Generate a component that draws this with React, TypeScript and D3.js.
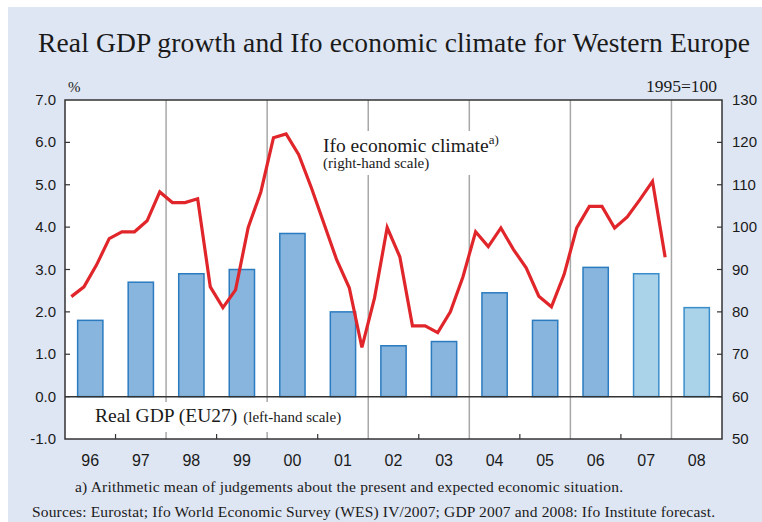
import React from "react";
import * as d3 from "d3";

const years = ["96", "97", "98", "99", "00", "01", "02", "03", "04", "05", "06", "07", "08"];
const gdp = [1.8, 2.7, 2.9, 3.0, 3.85, 2.0, 1.2, 1.3, 2.45, 1.8, 3.05, 2.9, 2.1];
const forecast = [false, false, false, false, false, false, false, false, false, false, false, true, true];
// quarterly Ifo economic climate, 1996Q1 - 2007Q4
const ifo = [
  83.6, 85.9, 91.1, 97.3,
  98.9, 98.9, 101.5, 108.3,
  105.8, 105.8, 106.7, 85.9,
  81.0, 85.2, 99.9, 108.3,
  121.1, 122.0, 117.1, 109.3,
  100.8, 92.3, 85.7, 71.6,
  83.3, 99.9, 93.0, 76.7,
  76.7, 75.1, 80.0, 88.3,
  98.9, 95.4, 99.8, 94.7,
  90.4, 83.7, 81.2, 88.8,
  99.8, 104.9, 104.9, 99.8,
  102.4, 106.5, 110.8, 92.9,
];
const leftTicks = [-1, 0, 1, 2, 3, 4, 5, 6, 7];
const rightTicks = [50, 60, 70, 80, 90, 100, 110, 120, 130];

const W = 762, H = 522;
const L = 65, R = 722, T = 100, B = 439;
const SERIF = "'Liberation Serif', 'Times New Roman', serif";
const SANS = "'Liberation Sans', Arial, sans-serif";

export default function App() {
  const x = d3.scaleBand<string>().domain(years).range([L, R]).paddingInner(0.5).paddingOuter(0.25);
  const xt = d3.scaleLinear().domain([0, years.length]).range([L, R]);
  const yL = d3.scaleLinear().domain([-1, 7]).range([B, T]);
  const yR = d3.scaleLinear().domain([50, 130]).range([B, T]);
  const line = d3
    .line<number>()
    .x((_, i) => xt((i + 0.5) / 4))
    .y((d) => yR(d));

  const boundaries = d3.range(1, years.length);

  return (
    <div style={{ position: "absolute", left: 0, top: 0 }}>
      <svg width={W} height={H} style={{ display: "block" }}>
        <rect x={0} y={0} width={W} height={H} fill="#ffffff" />
        <rect x={8} y={7} width={W - 8} height={H - 7} fill="#dfe6f3" />
        <text x={38} y={52} fontFamily={SERIF} fontSize={27.5} fill="#1a1a1a" textLength={712}>
          Real GDP growth and Ifo economic climate for Western Europe
        </text>
        <text x={68} y={92} fontFamily={SERIF} fontSize={15} fill="#1a1a1a">%</text>
        <text x={717} y={92} textAnchor="end" fontFamily={SERIF} fontSize={17.5} fill="#1a1a1a">1995=100</text>

        <rect x={L} y={T} width={R - L} height={B - T} fill="#ffffff" />

        {/* vertical grid lines every two years */}
        {boundaries.filter((b) => b % 2 === 0).map((b) => (
          <line key={"g" + b} x1={xt(b)} x2={xt(b)} y1={T} y2={B} stroke="#a8a8a8" strokeWidth={1.5} />
        ))}
        {/* small ticks on bottom axis */}
        {boundaries.filter((b) => b % 2 === 1).map((b) => (
          <line key={"t" + b} x1={xt(b)} x2={xt(b)} y1={B} y2={B - 5} stroke="#333" strokeWidth={1.2} />
        ))}

        {/* bars */}
        {years.map((yr, i) => (
          <rect
            key={yr}
            x={x(yr)}
            y={yL(gdp[i])}
            width={x.bandwidth()}
            height={yL(0) - yL(gdp[i])}
            fill={forecast[i] ? "#aad3ea" : "#88b5de"}
            stroke={forecast[i] ? "#3a8dcb" : "#2a7bbf"}
            strokeWidth={1.5}
          />
        ))}

        {/* zero line */}
        <line x1={L} x2={R} y1={yL(0)} y2={yL(0)} stroke="#333" strokeWidth={1.5} />

        {/* label boxes */}
        <rect x={318} y={131} width={192} height={44} fill="#ffffff" />
        <rect x={90} y={402} width={256} height={30} fill="#ffffff" />

        {/* Ifo line */}
        <path d={line(ifo) ?? ""} fill="none" stroke="#e0262a" strokeWidth={3.2} strokeLinejoin="miter" />

        <text x={323} y={152} fontFamily={SERIF} fontSize={19.5} fill="#1a1a1a">
          Ifo economic climate
          <tspan dy={-8} fontSize={13}>a)</tspan>
        </text>
        <text x={323} y={168} fontFamily={SERIF} fontSize={15} fill="#1a1a1a">(right-hand scale)</text>
        <text x={95} y={422} fontFamily={SERIF} fontSize={19.5} fill="#1a1a1a">
          Real GDP (EU27)
          <tspan dx={6} fontSize={15}>(left-hand scale)</tspan>
        </text>

        {/* frame */}
        <rect x={L} y={T} width={R - L} height={B - T} fill="none" stroke="#333" strokeWidth={1.5} />

        {/* left axis */}
        {leftTicks.map((t) => (
          <g key={"l" + t}>
            {t > -1 && t < 7 && <line x1={L} x2={L + 5} y1={yL(t)} y2={yL(t)} stroke="#333" strokeWidth={1.2} />}
            <text x={56} y={yL(t) + 5} textAnchor="end" fontFamily={SANS} fontSize={15} fill="#1a1a1a">
              {t.toFixed(1)}
            </text>
          </g>
        ))}
        {/* right axis */}
        {rightTicks.map((t) => (
          <g key={"r" + t}>
            {t > 50 && t < 130 && <line x1={R} x2={R - 5} y1={yR(t)} y2={yR(t)} stroke="#333" strokeWidth={1.2} />}
            <text x={732} y={yR(t) + 5} fontFamily={SANS} fontSize={15} fill="#1a1a1a">
              {t}
            </text>
          </g>
        ))}
        {/* x labels */}
        {years.map((yr) => (
          <text key={"x" + yr} x={(x(yr) ?? 0) + x.bandwidth() / 2} y={466} textAnchor="middle" fontFamily={SANS} fontSize={16} fill="#1a1a1a">
            {yr}
          </text>
        ))}

        <text x={75} y={492} fontFamily={SERIF} fontSize={15.5} fill="#1a1a1a" textLength={548}>
          a) Arithmetic mean of judgements about the present and expected economic situation.
        </text>
        <text x={32} y={517} fontFamily={SERIF} fontSize={15.5} fill="#1a1a1a" textLength={683}>
          Sources: Eurostat; Ifo World Economic Survey (WES) IV/2007; GDP 2007 and 2008: Ifo Institute forecast.
        </text>
      </svg>
    </div>
  );
}
